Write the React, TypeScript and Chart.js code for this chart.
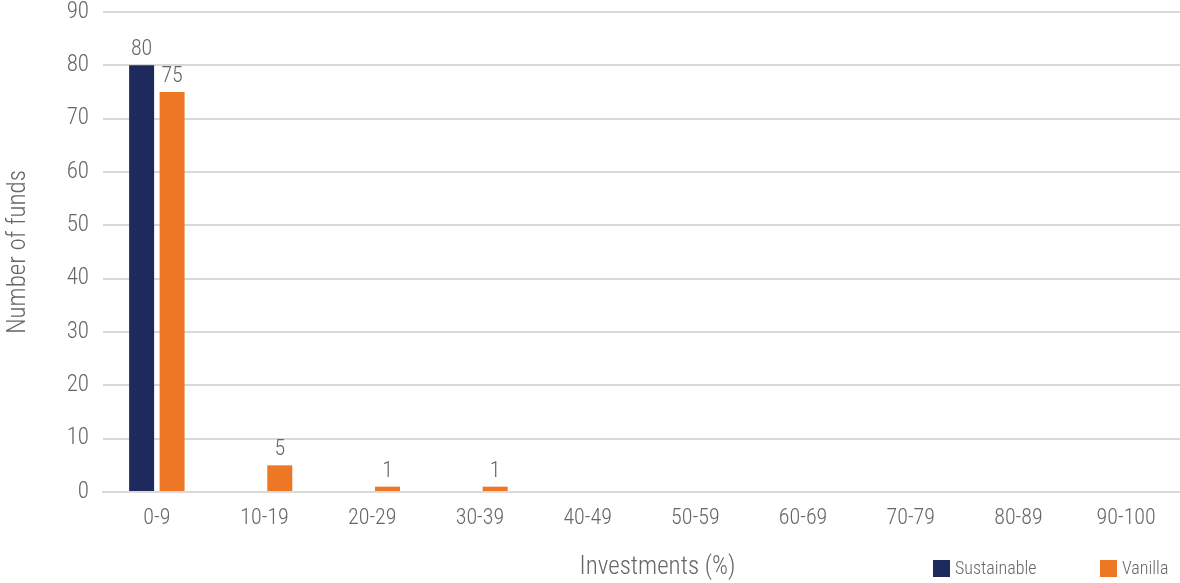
import React, { useEffect, useRef } from "react";
import { Chart, registerables } from "chart.js";

Chart.register(...registerables);

const categories = ["0-9", "10-19", "20-29", "30-39", "40-49", "50-59", "60-69", "70-79", "80-89", "90-100"];
const sustainable = [80, 0, 0, 0, 0, 0, 0, 0, 0, 0];
const vanilla = [75, 5, 1, 1, 0, 0, 0, 0, 0, 0];
const yTicks = [0, 10, 20, 30, 40, 50, 60, 70, 80, 90];

const FONT = "'Roboto Condensed', 'DejaVu Sans Condensed', sans-serif";
const TEXT = "#666666";
const NAVY = "#1e295e";
const ORANGE = "#ee7726";

const labelsPlugin = {
  id: "valueLabels",
  afterDatasetsDraw(chart: any) {
    const ctx = chart.ctx;
    ctx.save();
    ctx.font = `300 22px ${FONT}`;
    ctx.fillStyle = TEXT;
    ctx.textAlign = "center";
    ctx.textBaseline = "alphabetic";
    chart.data.datasets.forEach((ds: any, i: number) => {
      const meta = chart.getDatasetMeta(i);
      meta.data.forEach((bar: any, j: number) => {
        const v = ds.data[j];
        if (!v) return;
        ctx.fillText(String(v), bar.x, bar.y - 10);
      });
    });
    ctx.restore();
  },
};

const bottomPlugin = {
  id: "bottomTitleLegend",
  afterDraw(chart: any) {
    const ctx = chart.ctx;
    const area = chart.chartArea;
    const y = 568;
    ctx.save();
    ctx.fillStyle = TEXT;
    ctx.font = `300 25px ${FONT}`;
    ctx.textAlign = "center";
    ctx.textBaseline = "middle";
    ctx.fillText("Investments (%)", (area.left + area.right) / 2 + 16, y);
    ctx.font = `300 18px ${FONT}`;
    ctx.textAlign = "left";
    const starts = [933, 1100];
    chart.data.datasets.forEach((ds: any, i: number) => {
      const x = starts[i];
      ctx.fillStyle = ds.backgroundColor;
      ctx.fillRect(x, y - 8, 17, 17);
      ctx.fillStyle = TEXT;
      ctx.fillText(ds.label, x + 22, y + 1);
    });
    ctx.restore();
  },
};

export default function App() {
  const ref = useRef<HTMLCanvasElement>(null);
  useEffect(() => {
    document.body.style.margin = "0";
    const chart = new Chart(ref.current!, {
      type: "bar",
      data: {
        labels: categories,
        datasets: [
          { label: "Sustainable", data: sustainable, backgroundColor: NAVY, categoryPercentage: 0.566, barPercentage: 0.82 },
          { label: "Vanilla", data: vanilla, backgroundColor: ORANGE, categoryPercentage: 0.566, barPercentage: 0.82 },
        ],
      },
      options: {
        responsive: false,
        animation: false,
        layout: { padding: { top: 12, right: 0, bottom: 50, left: 0 } },
        plugins: { legend: { display: false }, tooltip: { enabled: false } },
        scales: {
          x: {
            afterFit: (s: any) => {
              s.height = 41;
              s.paddingLeft = 0;
              s.paddingRight = 0;
            },
            grid: { display: false, drawTicks: false },
            border: { display: true, color: "#d9d9d9", width: 2 },
            ticks: { color: TEXT, font: { family: FONT, size: 22, weight: "300" }, padding: 13 },
          },
          y: {
            min: 0,
            max: 90,
            afterFit: (s: any) => {
              s.width = 103;
              s.paddingTop = 0;
              s.paddingBottom = 0;
            },
            afterBuildTicks: (axis: any) => {
              axis.ticks = yTicks.map((v) => ({ value: v }));
            },
            grid: { color: "#d9d9d9", lineWidth: 2, drawTicks: false },
            border: { display: false },
            ticks: { color: TEXT, font: { family: FONT, size: 23, weight: "300", lineHeight: 1 }, padding: 14 },
            title: {
              display: true,
              text: "Number of funds",
              color: TEXT,
              font: { family: FONT, size: 25, weight: "300" },
              padding: { top: 4, bottom: 0 },
            },
          },
        },
      },
      plugins: [labelsPlugin, bottomPlugin],
    });
    return () => chart.destroy();
  }, []);
  return (
    <div style={{ width: 1180, height: 583 }}>
      <canvas ref={ref} width={1180} height={583} />
    </div>
  );
}
